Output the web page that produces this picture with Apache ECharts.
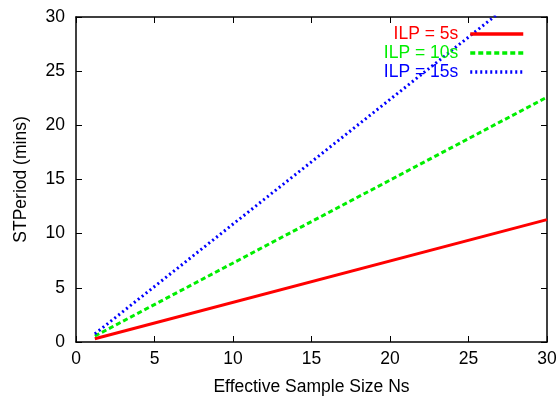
<!DOCTYPE html>
<html><head><meta charset="utf-8">
<script src="https://cdn.jsdelivr.net/npm/echarts@6/dist/echarts.min.js"></script>
<style>html,body{margin:0;padding:0;background:#fff}#c{width:557px;height:398px}</style>
</head><body><div id="c"></div>
<script>
const xTicks = [0, 5, 10, 15, 20, 25, 30];
const yTicks = [0, 5, 10, 15, 20, 25, 30];
const seriesNames = ['ILP = 5s', 'ILP = 10s', 'ILP = 15s'];
const ilp5 = [[1.2, 0.3], [30, 11.3]];
const ilp10 = [[1.2, 0.55], [30, 22.6]];
const ilp15 = [[1.2, 0.75], [30, 33.9]];
const colors = ['#ff0000', '#00ee00', '#0000ff'];
const dashTypes = ['solid', [5, 3], [2, 3]];

const font = 'Liberation Sans, Arial, Helvetica, sans-serif';
const fs = 17.5;
const chart = echarts.init(document.getElementById('c'));
const axisCommon = {
  type: 'value', min: 0, max: 30, interval: 5,
  axisLine: {show: true, onZero: false, lineStyle: {color: '#000', width: 1.5}},
  axisTick: {show: true, inside: true, length: 6, lineStyle: {color: '#000', width: 1}},
  splitLine: {show: false}
};
chart.setOption({
  animation: false,
  textStyle: {fontFamily: font},
  grid: {left: 76, right: 10, top: 17, bottom: 56, outerBoundsMode: 'none', containLabel: false},
  legend: {
    right: 32, top: 25, padding: 0, align: 'right', orient: 'vertical',
    itemWidth: 53, itemHeight: 14, itemGap: 1,
    itemStyle: {color: 'transparent', borderColor: 'transparent', borderWidth: 0},
    lineStyle: {width: 3.5},
    textStyle: {fontSize: fs, fontFamily: font, lineHeight: 18, padding: [0, 7, 0, 0]},
    data: seriesNames.map((n, i) => ({name: n, textStyle: {color: colors[i]}}))
  },
  xAxis: [
    Object.assign({}, axisCommon, {
      position: 'bottom',
      name: 'Effective Sample Size Ns', nameLocation: 'middle', nameGap: 36,
      nameTextStyle: {fontSize: fs, color: '#000', fontFamily: font},
      axisLabel: {fontSize: fs, color: '#000', margin: 8, fontFamily: font,
        formatter: v => xTicks.includes(v) ? String(v) : ''}
    }),
    Object.assign({}, axisCommon, {position: 'top', axisLabel: {show: false}})
  ],
  yAxis: [
    Object.assign({}, axisCommon, {
      position: 'left',
      name: 'STPeriod (mins)', nameLocation: 'middle', nameGap: 46,
      nameTextStyle: {fontSize: fs, color: '#000', fontFamily: font},
      axisLabel: {fontSize: fs, color: '#000', margin: 11, fontFamily: font,
        formatter: v => yTicks.includes(v) ? String(v) : ''}
    }),
    Object.assign({}, axisCommon, {position: 'right', axisLabel: {show: false}})
  ],
  series: [ilp5, ilp10, ilp15].map((d, i) => ({
    name: seriesNames[i], type: 'line', data: d, symbol: 'none', clip: true,
    xAxisIndex: 0, yAxisIndex: 0, z: 2,
    lineStyle: {color: colors[i], width: 3, type: dashTypes[i]},
    itemStyle: {color: colors[i]}
  }))
});
</script></body></html>
